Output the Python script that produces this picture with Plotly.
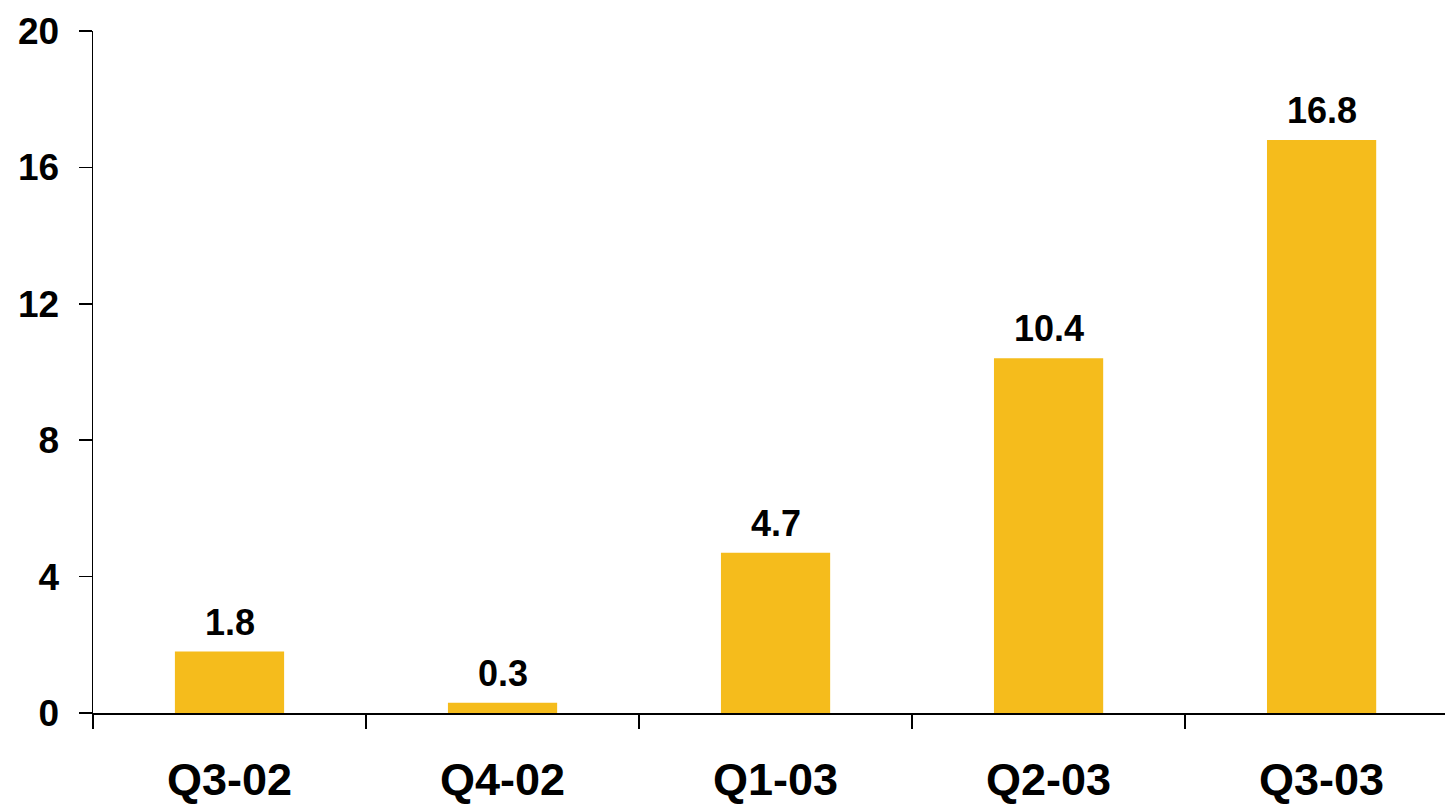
import plotly.graph_objects as go

categories = ["Q3-02", "Q4-02", "Q1-03", "Q2-03", "Q3-03"]
values = [1.8, 0.3, 4.7, 10.4, 16.8]
value_labels = ["1.8", "0.3", "4.7", "10.4", "16.8"]
y_ticks = [0, 4, 8, 12, 16, 20]

BAR_COLOR = "#F5BC1C"
FONT = "Liberation Sans, Arial, sans-serif"

fig = go.Figure()
fig.add_trace(go.Bar(
    x=categories, y=values, width=0.4,
    marker=dict(color=BAR_COLOR, line=dict(width=0)),
    hoverinfo="skip",
))

for c, v, t in zip(categories, values, value_labels):
    fig.add_annotation(
        x=c, y=v, text=t, showarrow=False, yanchor="bottom",
        yshift=7, font=dict(family=FONT, size=36, color="black", weight="bold"),
    )

fig.update_layout(
    width=1445, height=805,
    margin=dict(l=93, r=0, t=31, b=92, autoexpand=False),
    plot_bgcolor="white", paper_bgcolor="white",
    showlegend=False,
    bargap=0.6,
)
fig.update_xaxes(
    type="category", range=[-0.5, 4.452], automargin=False,
    showline=True, linecolor="black", linewidth=1.5,
    ticks="outside", tickson="boundaries", ticklen=14, tickcolor="black", tickwidth=1.5,
    tickfont=dict(family=FONT, size=45, color="black", weight="bold"),
    ticklabelstandoff=26,
    showgrid=False, zeroline=False,
)
fig.update_yaxes(
    range=[0, 20], tickvals=y_ticks, automargin=False,
    showline=True, linecolor="black", linewidth=1.5,
    ticks="outside", ticklen=13, tickcolor="black", tickwidth=1.5,
    tickfont=dict(family=FONT, size=37, color="black", weight="bold"),
    ticklabelstandoff=12,
    showgrid=False, zeroline=False,
)

fig.write_html(
    "out.html",
    config={"displayModeBar": False, "staticPlot": True},
    post_script="document.body.style.margin='0';document.body.style.overflow='hidden';",
)
